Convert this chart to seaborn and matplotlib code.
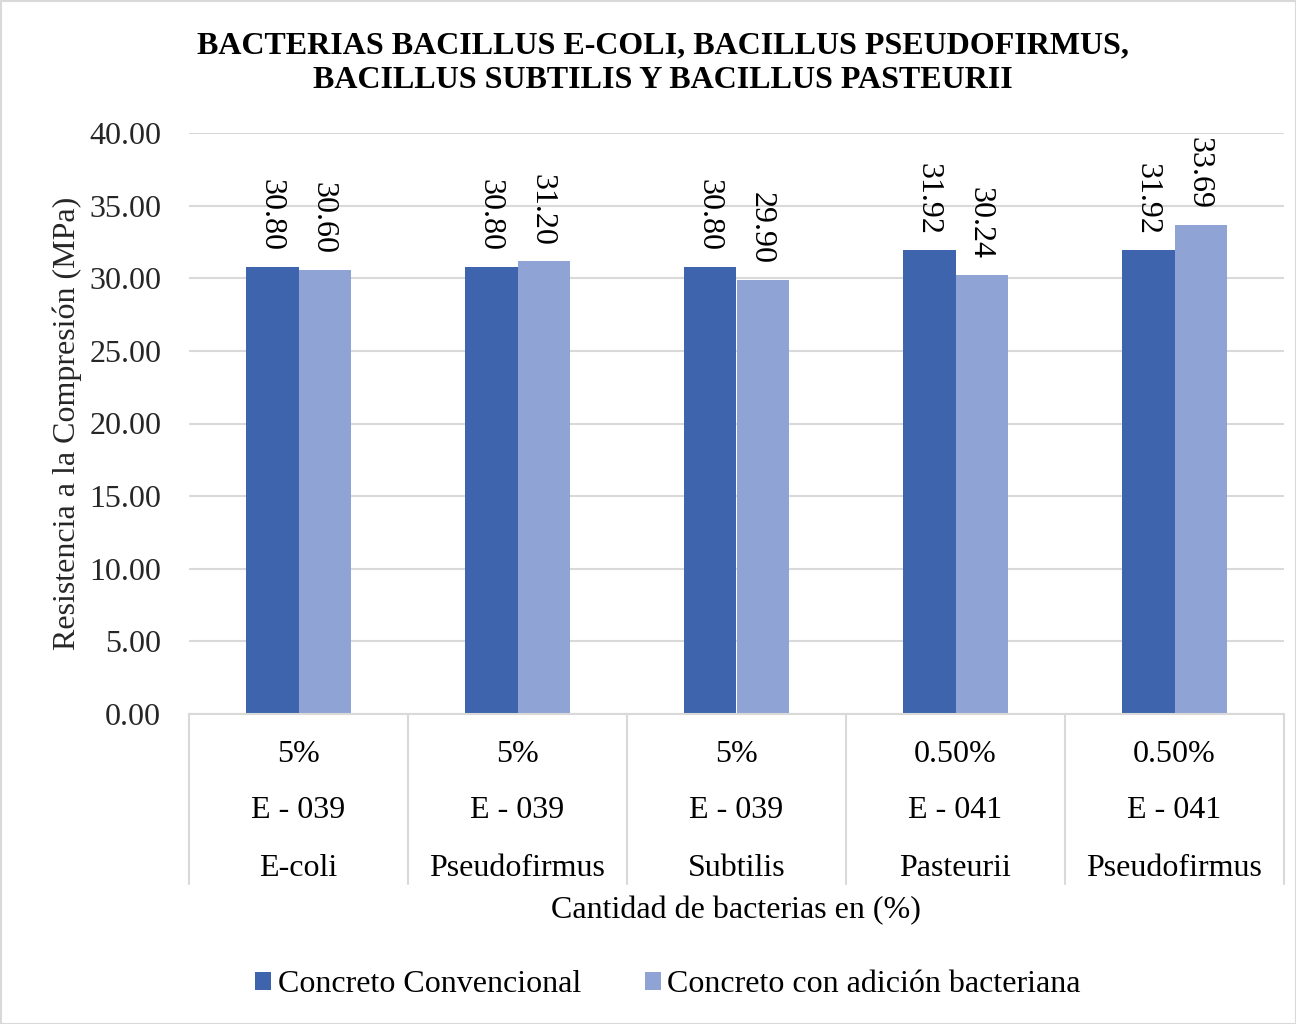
import matplotlib
matplotlib.use("Agg")
import matplotlib.pyplot as plt
import seaborn as sns
import pandas as pd
from matplotlib.patches import Rectangle
from matplotlib.lines import Line2D

# Data
doses = ["5%", "5%", "5%", "0.50%", "0.50%"]
codes = ["E - 039", "E - 039", "E - 039", "E - 041", "E - 041"]
bacteria = ["E-coli", "Pseudofirmus", "Subtilis", "Pasteurii", "Pseudofirmus"]
conventional = [30.80, 30.80, 30.80, 31.92, 31.92]
bacterial = [30.60, 31.20, 29.90, 30.24, 33.69]
series_names = ["Concreto Convencional", "Concreto con adición bacteriana"]
yticks = [0, 5, 10, 15, 20, 25, 30, 35, 40]

keys = [f"{d}|{c}|{b}" for d, c, b in zip(doses, codes, bacteria)]
df = pd.DataFrame({
    "grupo": keys * 2,
    "serie": [series_names[0]] * 5 + [series_names[1]] * 5,
    "valor": conventional + bacterial,
})

sns.set_theme(style="white")
plt.rcParams["font.family"] = ["Liberation Serif", "DejaVu Serif"]
plt.rcParams["text.color"] = "#000000"

FS = 23

fig = plt.figure(figsize=(12.96, 10.24), dpi=100)
ax = fig.add_axes([189 / 1296, 1 - 714 / 1024, (1284 - 189) / 1296, (714 - 133) / 1024])

palette = {series_names[0]: "#3D64AC", series_names[1]: "#8FA4D4"}
sns.barplot(data=df, x="grupo", y="valor", hue="serie", order=keys,
            hue_order=series_names, palette=palette, width=0.475,
            saturation=1, ax=ax, legend=True, edgecolor="none", linewidth=0)

ax.set_ylim(0, 40)
ax.set_xlim(-0.5, 4.5)
ax.set_yticks(yticks)
ax.set_yticklabels([f"{v:.2f}" for v in yticks], fontsize=FS)
ax.tick_params(axis="y", length=0, pad=20)
ax.tick_params(axis="x", length=0, labelbottom=False)
ax.yaxis.grid(True, color="#D9D9D9", linewidth=1.5)
ax.set_axisbelow(True)
for side in ["top", "right", "left"]:
    ax.spines[side].set_visible(False)
ax.spines["bottom"].set_color("#D9D9D9")
ax.spines["bottom"].set_linewidth(1.5)

# value labels, rotated
for container in ax.containers:
    for bar in container:
        h = bar.get_height()
        ax.annotate(f"{h:.2f}", (bar.get_x() + bar.get_width() / 2, h),
                    xytext=(-1, 11), textcoords="offset points",
                    rotation=270, ha="center", va="bottom", fontsize=FS)

# multi-level category axis
trans = ax.get_xaxis_transform()
axis_h = (714 - 133)
for i, (d, c, b) in enumerate(zip(doses, codes, bacteria)):
    for txt, ypix in [(d, 755), (c, 811), (b, 868)]:
        ax.text(i, -(ypix - 714) / axis_h, txt, transform=trans,
                ha="center", va="center", fontsize=FS)
for xb in [-0.5, 0.5, 1.5, 2.5, 3.5, 4.5]:
    ax.add_line(Line2D([xb, xb], [0, -(884 - 714) / axis_h], transform=trans,
                       color="#D9D9D9", linewidth=1.5, clip_on=False))

ax.set_xlabel("")
ax.set_ylabel("Resistencia a la Compresión (MPa)", fontsize=FS, labelpad=5)
fig.text(736 / 1296, 1 - 911 / 1024, "Cantidad de bacterias en (%)",
         ha="center", va="center", fontsize=FS)

fig.text(663 / 1296, 1 - 63 / 1024,
         "BACTERIAS BACILLUS E-COLI, BACILLUS PSEUDOFIRMUS,\nBACILLUS SUBTILIS Y BACILLUS PASTEURII",
         ha="center", va="center", fontsize=FS, fontweight="bold", linespacing=1.25)

handles, labels = ax.get_legend_handles_labels()
ax.get_legend().remove()
fig.legend(handles, labels, loc="center", bbox_to_anchor=(668 / 1296, 1 - 985 / 1024),
           ncol=2, frameon=False, fontsize=FS, handlelength=0.5, handleheight=0.5,
           handletextpad=0.2, columnspacing=2.0)

fig.patches.append(Rectangle((0.5 / 1296, 0.5 / 1024), 1 - 1 / 1296, 1 - 1 / 1024,
                             transform=fig.transFigure, fill=False,
                             edgecolor="#D9D9D9", linewidth=1.5))

fig.savefig("out.png", dpi=100)
